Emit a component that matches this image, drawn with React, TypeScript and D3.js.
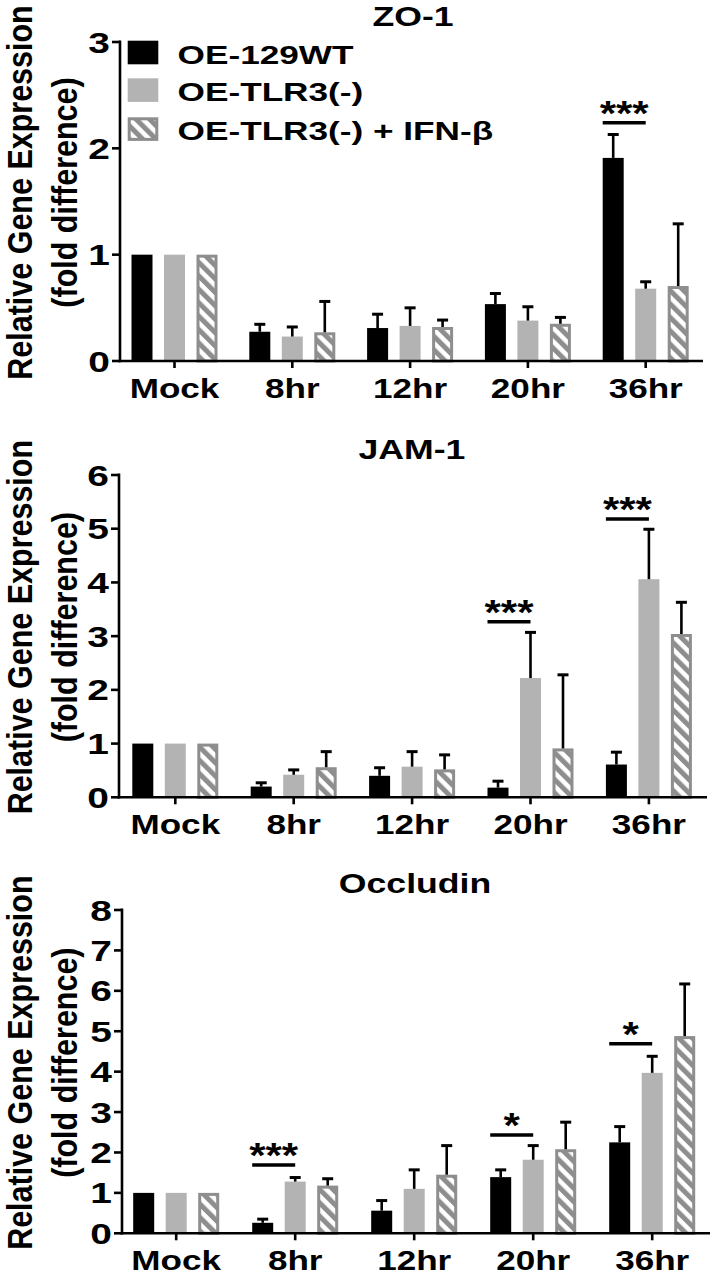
import React from "react";
import * as d3 from "d3";

// ---------- DATA ----------
const categories = ["Mock", "8hr", "12hr", "20hr", "36hr"];
const seriesNames = ["OE-129WT", "OE-TLR3(-)", "OE-TLR3(-) + IFN-β"];

// ZO-1
const zo1WT = [1, 0.275, 0.31, 0.535, 1.91];
const zo1WTErr = [0, 0.07, 0.13, 0.1, 0.22];
const zo1TLR3 = [1, 0.23, 0.33, 0.38, 0.68];
const zo1TLR3Err = [0, 0.09, 0.17, 0.13, 0.065];
const zo1IFN = [1, 0.27, 0.32, 0.35, 0.705];
const zo1IFNErr = [0, 0.29, 0.065, 0.06, 0.585];
const zo1Ticks = [0, 1, 2, 3];
const zo1Sig = [{ cat: "36hr", level: 2.24, label: "***" }];

// JAM-1
const jamWT = [1, 0.2, 0.4, 0.18, 0.61];
const jamWTErr = [0, 0.07, 0.15, 0.12, 0.23];
const jamTLR3 = [1, 0.42, 0.57, 2.22, 4.06];
const jamTLR3Err = [0, 0.09, 0.28, 0.85, 0.93];
const jamIFN = [1, 0.56, 0.52, 0.91, 3.04];
const jamIFNErr = [0, 0.29, 0.27, 1.37, 0.59];
const jamTicks = [0, 1, 2, 3, 4, 5, 6];
const jamSig = [
  { cat: "20hr", level: 3.27, label: "***" },
  { cat: "36hr", level: 5.18, label: "***" },
];

// Occludin
const occWT = [1, 0.26, 0.56, 1.39, 2.25];
const occWTErr = [0, 0.09, 0.25, 0.18, 0.39];
const occTLR3 = [1, 1.28, 1.1, 1.82, 3.97];
const occTLR3Err = [0, 0.1, 0.47, 0.35, 0.41];
const occIFN = [1, 1.18, 1.45, 2.08, 4.88];
const occIFNErr = [0, 0.17, 0.72, 0.67, 1.29];
const occTicks = [0, 1, 2, 3, 4, 5, 6, 7, 8];
const occSig = [
  { cat: "8hr", level: 1.69, label: "***" },
  { cat: "20hr", level: 2.43, label: "*" },
  { cat: "36hr", level: 4.69, label: "*" },
];

// ---------- STYLE / LAYOUT ----------
const FONT = "'Liberation Sans', Arial, Helvetica, sans-serif";
const GRAY = "#b3b3b3";
const HATCH = "#8e8e8e";

const panels = [
  {
    title: "ZO-1",
    values: [zo1WT, zo1TLR3, zo1IFN],
    errs: [zo1WTErr, zo1TLR3Err, zo1IFNErr],
    ticks: zo1Ticks,
    sig: zo1Sig,
    top: 42, bottom: 361, axisX: 120, c0: 174.5, step: 117.8, xEnd: 703,
    titleX: 413, titleY: 26, legend: true,
  },
  {
    title: "JAM-1",
    values: [jamWT, jamTLR3, jamIFN],
    errs: [jamWTErr, jamTLR3Err, jamIFNErr],
    ticks: jamTicks,
    sig: jamSig,
    top: 475, bottom: 797.3, axisX: 119, c0: 175.3, step: 118.4, xEnd: 707,
    titleX: 412, titleY: 459, legend: false,
  },
  {
    title: "Occludin",
    values: [occWT, occTLR3, occIFN],
    errs: [occWTErr, occTLR3Err, occIFNErr],
    ticks: occTicks,
    sig: occSig,
    top: 910, bottom: 1233.3, axisX: 122, c0: 176.2, step: 119, xEnd: 710,
    titleX: 415, titleY: 893, legend: false,
  },
];

const BAR_W = 21;
const BAR_OFF = [-32.5, 0, 32.5];

function Bar({ x, y0, y1, kind }: { x: number; y0: number; y1: number; kind: number }) {
  const h = y0 - y1;
  if (kind === 0) return <rect x={x - BAR_W / 2} y={y1} width={BAR_W} height={h} fill="#000" />;
  if (kind === 1) return <rect x={x - BAR_W / 2} y={y1} width={BAR_W} height={h} fill={GRAY} />;
  return (
    <rect
      x={x - BAR_W / 2 + 1.5}
      y={y1 + 1.5}
      width={BAR_W - 3}
      height={Math.max(0, h - 1.5)}
      fill="url(#hatch)"
      stroke={HATCH}
      strokeWidth={3}
    />
  );
}

function Panel({ p }: { p: any }) {
  const yMax = p.ticks[p.ticks.length - 1];
  const y = d3.scaleLinear().domain([0, yMax]).range([p.bottom, p.top]);
  const x = d3
    .scaleBand<string>()
    .domain(categories)
    .range([p.c0 - p.step / 2, p.c0 + (categories.length - 0.5) * p.step]);
  const cx = (c: string) => (x(c) as number) + x.bandwidth() / 2;
  const midY = (p.top + p.bottom) / 2 - 9;

  return (
    <g>
      {/* title */}
      <text
        transform={`translate(${p.titleX},${p.titleY}) scale(1.25,1)`}
        textAnchor="middle"
        fontSize={28.5}
        fontWeight="bold"
        fontFamily={FONT}
      >
        {p.title}
      </text>

      {/* y label */}
      <text
        transform={`translate(32,${midY}) scale(1.14,1) rotate(-90)`}
        textAnchor="middle"
        fontSize={30.5}
        fontWeight="bold"
        fontFamily={FONT}
      >
        Relative Gene Expression
      </text>
      <text
        transform={`translate(77,${midY}) scale(1.14,1) rotate(-90)`}
        textAnchor="middle"
        fontSize={30.5}
        fontWeight="bold"
        fontFamily={FONT}
      >
        (fold difference)
      </text>

      {/* bars */}
      {p.values.map((vals: number[], si: number) =>
        vals.map((v, ci) => {
          const c = categories[ci];
          const bx = cx(c) + BAR_OFF[si];
          return <Bar key={`b${si}-${ci}`} x={bx} y0={y(0)} y1={y(v)} kind={si} />;
        })
      )}

      {/* error bars */}
      {p.values.map((vals: number[], si: number) =>
        vals.map((v, ci) => {
          const e = p.errs[si][ci];
          if (!e) return null;
          const bx = cx(categories[ci]) + BAR_OFF[si];
          return (
            <g key={`e${si}-${ci}`}>
              <line x1={bx} x2={bx} y1={y(v)} y2={y(v + e)} stroke="#000" strokeWidth={2.6} />
              <line x1={bx - 5.5} x2={bx + 5.5} y1={y(v + e)} y2={y(v + e)} stroke="#000" strokeWidth={3} />
            </g>
          );
        })
      )}

      {/* significance */}
      {p.sig.map((s: any, i: number) => {
        const c = cx(s.cat);
        const xa = c + BAR_OFF[0] - BAR_W / 2;
        const xb = c + BAR_OFF[1];
        const yy = y(s.level);
        return (
          <g key={`s${i}`}>
            <line x1={xa} x2={xb} y1={yy} y2={yy} stroke="#000" strokeWidth={3.5} />
            <text
              transform={`translate(${(xa + xb) / 2},${yy + 2}) scale(1.2,1)`}
              textAnchor="middle"
              fontSize={35}
              fontWeight="bold"
              fontFamily={FONT}
            >
              {s.label}
            </text>
          </g>
        );
      })}

      {/* y axis */}
      <line x1={p.axisX} x2={p.axisX} y1={y(yMax) - 1.5} y2={y(0) + 1.3} stroke="#000" strokeWidth={2.6} />
      {p.ticks.map((t: number) => (
        <g key={`yt${t}`}>
          <line x1={p.axisX - 8} x2={p.axisX} y1={y(t)} y2={y(t)} stroke="#000" strokeWidth={2.6} />
          <text
            transform={`translate(${p.axisX - 10},${y(t) + 10.5}) scale(1.32,1)`}
            textAnchor="end"
            fontSize={29.5}
            fontWeight="bold"
            fontFamily={FONT}
          >
            {t}
          </text>
        </g>
      ))}

      {/* x axis */}
      <line x1={p.axisX - 1.3} x2={p.xEnd} y1={y(0)} y2={y(0)} stroke="#000" strokeWidth={2.6} />
      {categories.map((c) => (
        <g key={`xt${c}`}>
          <line x1={cx(c)} x2={cx(c)} y1={y(0)} y2={y(0) + 7} stroke="#000" strokeWidth={2.6} />
          <text
            transform={`translate(${cx(c)},${y(0) + 36.5}) scale(1.3,1)`}
            textAnchor="middle"
            fontSize={27}
            fontWeight="bold"
            fontFamily={FONT}
          >
            {c}
          </text>
        </g>
      ))}

      {/* legend */}
      {p.legend &&
        seriesNames.map((name, i) => {
          const rowTop = [40.7, 78.3, 117.3][i];
          const sq =
            i === 0 ? (
              <rect x={127.7} y={rowTop} width={30.6} height={23.6} fill="#000" />
            ) : i === 1 ? (
              <rect x={127.7} y={rowTop} width={30.6} height={23.6} fill={GRAY} />
            ) : (
              <rect x={129.2} y={rowTop + 1.5} width={27.6} height={20.6} fill="url(#hatch)" stroke={HATCH} strokeWidth={3} />
            );
          return (
            <g key={`lg${i}`}>
              {sq}
              <text
                transform={`translate(177.6,${rowTop + 23}) scale(1.38,1)`}
                fontSize={25.5}
                fontWeight="bold"
                fontFamily={FONT}
              >
                {name}
              </text>
            </g>
          );
        })}
    </g>
  );
}

export default function App() {
  return (
    <svg
      width={714}
      height={1275}
      style={{ position: "absolute", left: 0, top: 0, background: "#fff" }}
    >
      <defs>
        <pattern
          id="hatch"
          patternUnits="userSpaceOnUse"
          width={9.5}
          height={9.5}
          patternTransform="rotate(-45)"
        >
          <rect x={0} y={0} width={9.5} height={9.5} fill="#fff" />
          <rect x={0} y={0} width={5} height={9.5} fill={HATCH} />
        </pattern>
      </defs>
      <rect x={0} y={0} width={714} height={1275} fill="#fff" />
      {panels.map((p) => (
        <Panel key={p.title} p={p} />
      ))}
    </svg>
  );
}
